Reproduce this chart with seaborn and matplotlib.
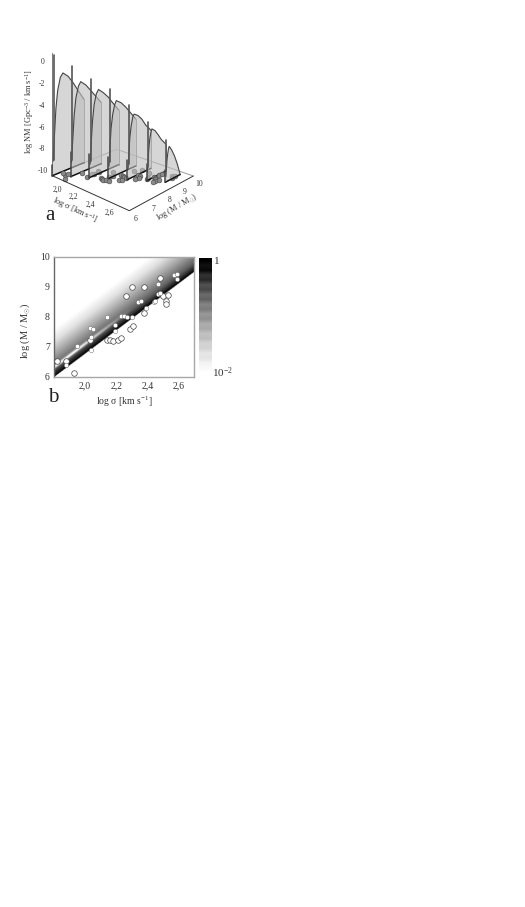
import numpy as np
import matplotlib
matplotlib.use("Agg")
import matplotlib.pyplot as plt
import seaborn as sns

sns.set_style("white")
plt.rcParams['font.family'] = ['Liberation Serif', 'DejaVu Serif']
plt.rcParams['mathtext.fontset'] = 'custom'
plt.rcParams['mathtext.rm'] = 'Liberation Serif'
plt.rcParams['mathtext.it'] = 'Liberation Serif:italic'
plt.rcParams['mathtext.bf'] = 'Liberation Serif:bold'

W, H = 525, 907

# ---------- data ----------
small_sigma = [1.88,1.95,2.03,2.05,2.04,2.04,2.14,2.19,2.19,2.23,2.25,2.27,2.30,2.34,2.36,2.44,2.45,2.39,2.47,2.48,2.47,2.57,2.59,2.59]
small_mass = [6.40,7.05,7.65,7.60,7.35,6.90,8.00,7.75,7.53,8.05,8.03,8.00,8.00,8.50,8.53,8.50,8.55,8.30,8.78,8.80,9.10,9.40,9.45,9.27]
large_sigma = [1.82,1.88,1.93,2.03,2.14,2.16,2.18,2.21,2.23,2.29,2.31,2.26,2.30,2.38,2.38,2.48,2.50,2.52,2.52,2.53]
large_mass = [6.52,6.55,6.15,7.25,7.25,7.23,7.20,7.25,7.30,7.60,7.70,8.70,9.00,9.00,8.12,9.30,8.70,8.55,8.45,8.75]

slice_sigma = [1.80,1.933,2.067,2.20,2.333,2.467,2.60]
slice_mass = [
    [6.05,6.10,6.20,6.30,6.45,6.60,6.90,7.20,7.50,7.85],
    [6.52,6.57,6.67,6.77,6.92,7.05,7.35,7.65,7.95,8.30],
    [6.98,7.03,7.12,7.22,7.35,7.48,7.78,8.08,8.40,8.75],
    [7.45,7.50,7.58,7.68,7.80,7.90,8.20,8.50,8.80,9.15],
    [7.92,7.96,8.03,8.12,8.22,8.30,8.55,8.80,9.05,9.40],
    [8.38,8.42,8.48,8.54,8.62,8.68,8.88,9.08,9.30,9.60],
    [8.78,8.81,8.85,8.90,8.95,9.00,9.15,9.35,9.55,9.75],
]
slice_logn = [
    [-9.2,-7.5,-4.5,-2.9,-1.8,-1.5,-2.0,-2.8,-3.7,-4.7],
    [-9.2,-7.7,-5.0,-3.5,-2.5,-2.2,-2.7,-3.4,-4.1,-4.9],
    [-9.3,-7.9,-5.5,-4.0,-3.1,-2.8,-3.3,-3.9,-4.7,-5.5],
    [-9.4,-8.1,-6.0,-4.8,-4.0,-3.7,-4.1,-4.7,-5.4,-6.2],
    [-9.6,-8.5,-6.8,-5.7,-5.0,-4.8,-5.1,-5.6,-6.3,-7.0],
    [-9.7,-8.9,-7.6,-6.8,-6.2,-6.0,-6.3,-6.8,-7.4,-8.0],
    [-10.0,-9.4,-8.6,-8.0,-7.6,-7.4,-7.8,-8.5,-9.4,-10.5],
]
spike_top = [0.5,-0.45,-1.5,-2.4,-3.7,-5.2,-6.7]
spike_bottom = [-9.1,-9.0,-9.0,-9.0,-9.1,-9.3,-9.5]
edge_top = [-9.5,-8.2,-8.3,-8.5,-8.7,-9.0,-9.4]

z_ticks = [0,-2,-4,-6,-8,-10]
sigma_ticks = [2.0,2.2,2.4,2.6]
mass_ticks = [6,7,8,9,10]
tick_2d_x = [2.0,2.2,2.4,2.6]
tick_2d_y = [6,7,8,9,10]

band_d = [0,.05,.15,.30,.50,.80,1.20,1.60]
band_v = [1,.95,.80,.62,.50,.33,.12,0]
cbar_levels = [1,.93,.97,.80,.84,.68,.72,.58,.62,.48,.52,.40,.44,.32,.34,.24,.26,.17,.18,.10,.11,.05,.03,0]

TXT = '#333333'
fig = plt.figure(figsize=(W/100, H/100), dpi=100, facecolor='white')

def px_axes(x0, y0, x1, y1, **kw):
    return fig.add_axes([x0/W, 1-y1/H, (x1-x0)/W, (y1-y0)/H], **kw)

# ---------- panel a : projection onto the page ----------
ax = fig.add_axes([0, 0, 1, 1])
ax.set_xlim(0, W); ax.set_ylim(H, 0); ax.axis('off')

src = np.array([[1.8,6.],[2.7,6.],[2.7,10.],[1.8,10.]])
dst = np.array([[52.3,175.7],[129.3,210.7],[193.3,176],[116.7,149.3]])
A = []; b = []
for (u,v),(px,py) in zip(src,dst):
    A.append([u,v,1,0,0,0,-u*px,-v*px]); b.append(px)
    A.append([0,0,0,u,v,1,-u*py,-v*py]); b.append(py)
h = np.linalg.solve(np.array(A), np.array(b))
Hm = np.append(h,1).reshape(3,3)
ZPX = 10.93
ZFLOOR = -10.5

def proj(s, m, z=ZFLOOR):
    s, m, z = np.broadcast_arrays(np.asarray(s,float), np.asarray(m,float), np.asarray(z,float))
    w = Hm[2,0]*s + Hm[2,1]*m + Hm[2,2]
    px = (Hm[0,0]*s + Hm[0,1]*m + Hm[0,2])/w
    py = (Hm[1,0]*s + Hm[1,1]*m + Hm[1,2])/w
    return px, py - (z-ZFLOOR)*ZPX

bx, by = proj([1.8,1.8,2.7],[6,10,10])
ax.plot(bx, by, color='#9c9c9c', lw=0.7, zorder=1)
fx, fy = proj([1.8,2.7,2.7],[6,6,10])
ax.plot(fx, fy, color='#333333', lw=0.7, zorder=30)
zx, zy = proj([1.8,1.8],[6.0,6.0],[ZFLOOR,0.7])
ax.plot(zx, zy, color='#777777', lw=0.7, zorder=2)

sig_all = np.array(small_sigma+large_sigma); mas_all = np.array(small_mass+large_mass)
bins = np.digitize(sig_all, slice_sigma)

for i, (s, ms, ls) in enumerate(zip(slice_sigma, slice_mass, slice_logn)):
    zo = 3 + 2*i
    ms = np.array(ms); ls = np.array(ls)
    m_start = ms[0]-0.05
    xs, ys = proj(s, np.r_[m_start, ms, ms[-1]], np.r_[ZFLOOR, ls, ZFLOOR])
    ax.fill(xs, ys, facecolor='#bdbdbd', alpha=0.62, edgecolor='none', zorder=zo)
    cx, cy = proj(s, ms, ls)
    ax.plot(cx, cy, color='#444444', lw=0.8, zorder=zo+0.5)
    rx, ry = proj(s, [ms[-1], ms[-1]], [ZFLOOR, ls[-1]])
    ax.plot(rx, ry, color='#8a8a8a', lw=0.7, zorder=zo+0.5)
    bx, by = proj(s, [m_start, ms[-1]])
    ax.plot(bx, by, color='#111111', lw=1.1, zorder=zo+0.6)
    ex, ey = proj(s, [m_start, m_start], [ZFLOOR, edge_top[i]])
    ax.plot(ex, ey, color='#444444', lw=1.1, zorder=zo+0.6)
    sx, sy = proj(s, [ms[1], ms[1]], [spike_bottom[i], spike_top[i]])
    ax.plot(sx, sy, color='#555555', lw=1.2, zorder=zo+0.7)
    mask = bins == i + 1
    if mask.any():
        gx, gy = proj(sig_all[mask], mas_all[mask])
        sns.scatterplot(x=gx, y=gy, ax=ax, s=12, color='#8a8a8a', edgecolor='#444444',
                        linewidth=0.4, zorder=zo+1, legend=False)

for z in z_ticks:
    tx, ty = proj(1.8, 6, z)
    ax.text(tx-10, ty+1, f"{z}", fontsize=5.5, color=TXT, ha='center', va='center')
for s in sigma_ticks:
    tx, ty = proj(s, 6)
    ax.text(tx-10, ty+7, f"{s:.1f}".replace('.',','), fontsize=5.5, color=TXT, ha='center', va='center')
for m in mass_ticks:
    tx, ty = proj(2.7, m)
    ax.text(tx+6, ty+8, f"{m}", fontsize=5.5, color=TXT, ha='center', va='center')

ax.text(30, 112, r"log NM [Gpc$^{-3}$ / km s$^{-1}$]", rotation=90, fontsize=6, color=TXT, ha='center', va='center')
ax.text(75, 210, r"log σ [km s$^{-1}$]", rotation=-25, fontsize=6, color=TXT, ha='center', va='center',
        rotation_mode='anchor')
ax.text(177, 207, r"log (M / M$_{\odot}$)", rotation=30, fontsize=6, color=TXT, ha='center', va='center',
        rotation_mode='anchor')
ax.text(50, 215, "a", fontsize=15, color='#222222', ha='center', va='center')
ax.text(53, 398, "b", fontsize=15, color='#222222', ha='center', va='center')

# ---------- panel b ----------
axb = px_axes(54, 257, 194, 377)
gx = np.linspace(1.8, 2.7, 360); gy = np.linspace(6, 10, 480)
X, Y = np.meshgrid(gx, gy)
lower = 6 + 3.89*(X-1.8)
D = Y - lower
V = np.interp(D, band_d, band_v)
stripe = np.clip((2.3-X)/0.35, 0, 1)
V = V*(1 - stripe*np.exp(-((D-0.33)/0.06)**2))
V = np.where(D < 0, 0, V)
axb.imshow(V, extent=[1.8,2.7,6,10], origin='lower', aspect='auto', cmap='gray_r', vmin=0, vmax=1,
           interpolation='bilinear', zorder=1)
sns.scatterplot(x=large_sigma, y=large_mass, ax=axb, s=16, color='white', edgecolor='#444444',
                linewidth=0.5, zorder=3, legend=False)
sns.scatterplot(x=small_sigma, y=small_mass, ax=axb, s=10, color='white', edgecolor='#555555',
                linewidth=0.3, zorder=4, legend=False)
axb.set_xlim(1.8, 2.7); axb.set_ylim(6, 10)
axb.set_xticks(tick_2d_x); axb.set_xticklabels([f"{t:.1f}".replace('.',',') for t in tick_2d_x])
axb.set_yticks(tick_2d_y)
axb.tick_params(axis='both', labelsize=7, colors=TXT, length=2, width=0.5, direction='in', pad=3, color='#777777')
axb.set_xlabel(r"log σ [km s$^{-1}$]", fontsize=7, color=TXT, labelpad=3)
axb.set_ylabel(r"log (M / M$_{\odot}$)", fontsize=7.5, color=TXT)
axb.yaxis.set_label_coords(-0.157, 0.39)
for k, sp in axb.spines.items():
    sp.set_color('#a8a8a8' if k in ('right','bottom','top') else '#666666'); sp.set_linewidth(1.0)

# ---------- colour bar ----------
axc = px_axes(199, 258, 212, 375)
axc.imshow(np.array(cbar_levels)[:,None], aspect='auto', cmap='gray_r', vmin=0, vmax=1, interpolation='bilinear')
axc.set_xticks([]); axc.set_yticks([])
for sp in axc.spines.values():
    sp.set_visible(False)
ax.text(217, 262, "1", fontsize=8, color=TXT, ha='center', va='center')
ax.text(223, 373, r"10$^{-2}$", fontsize=8, color=TXT, ha='center', va='center')

fig.savefig("out.png", dpi=100)
